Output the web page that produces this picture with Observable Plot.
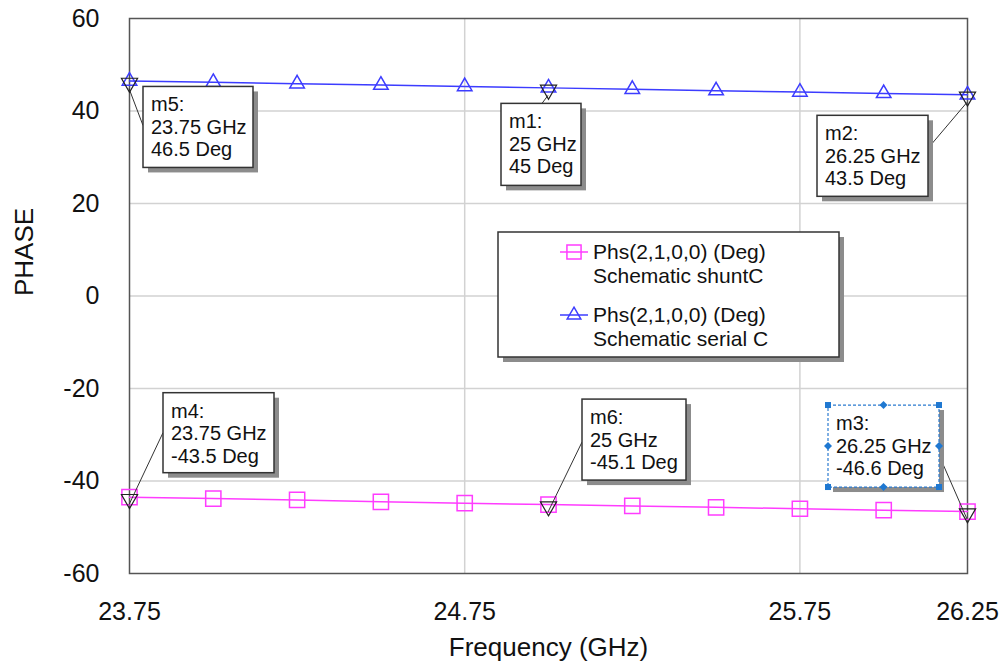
<!DOCTYPE html>
<html><head><meta charset="utf-8">
<script src="https://cdn.jsdelivr.net/npm/d3@7"></script>
<script src="https://cdn.jsdelivr.net/npm/@observablehq/plot@0.6"></script>
<style>
html,body{margin:0;padding:0;background:#fff;}
#chart svg{display:block;}
</style></head><body><div id="chart"></div>
<script>
// ---- data ----
const freqs = [23.75, 24, 24.25, 24.5, 24.75, 25, 25.25, 25.5, 25.75, 26, 26.25];
const phaseSerialC = [46.5, 46.2, 45.9, 45.6, 45.3, 45.0, 44.7, 44.4, 44.1, 43.8, 43.5];
const phaseShuntC = [-43.5, -43.8, -44.1, -44.5, -44.8, -45.1, -45.4, -45.7, -46.0, -46.3, -46.6];
const seriesNames = ["Schematic shuntC", "Schematic serial C"];
const traceLabel = "Phs(2,1,0,0) (Deg)";
const xTicks = [23.75, 24.75, 25.75, 26.25];
const yTicks = [-60, -40, -20, 0, 20, 40, 60];
const xLabel = "Frequency (GHz)";
const yLabel = "PHASE";
const markerNames = ["m5", "m1", "m2", "m4", "m6", "m3"];
const markerFreqs = [23.75, 25, 26.25, 23.75, 25, 26.25];
const markerPhases = [46.5, 45, 43.5, -43.5, -45.1, -46.6];

// ---- styles / layout ----
const FONT = "'Liberation Sans', Arial, sans-serif";
const colShunt = "#ff3cff", colSerial = "#3c3cff";
const boxLayout = {
  m5: {dx: 14, dy: 6, w: 110, h: 81, edge: "left", at: 39},
  m1: {dx: -47, dy: 16, w: 80, h: 82, edge: "top", at: 41},
  m2: {dx: -150, dy: 21, w: 111, h: 81, edge: "right", at: 33},
  m4: {dx: 34, dy: -104, w: 111, h: 80, edge: "left", at: 40},
  m6: {dx: 34, dy: -105, w: 104, h: 81, edge: "left", at: 43},
  m3: {dx: -139, dy: -106, w: 111, h: 82, edge: "right", at: 50, selected: true}
};

const rowsShunt = freqs.map((f, i) => ({f, p: phaseShuntC[i]}));
const rowsSerial = freqs.map((f, i) => ({f, p: phaseSerialC[i]}));
const markers = markerNames.map((n, i) => ({name: n, f: markerFreqs[i], p: markerPhases[i]}));

const triangleDown = {
  draw(ctx, size) {
    const s = Math.sqrt(size * 4 / Math.sqrt(3));
    const h = s * Math.sqrt(3) / 2;
    ctx.moveTo(-s / 2, -h / 3);
    ctx.lineTo(s / 2, -h / 3);
    ctx.lineTo(0, 2 * h / 3);
    ctx.closePath();
  }
};

function annotations(index, scales) {
  const g = d3.create("svg:g").attr("font-family", FONT).attr("font-size", 20).attr("fill", "#111").attr("text-anchor", "start");
  markers.forEach(m => {
    const L = boxLayout[m.name];
    const px = scales.x(m.f), py = scales.y(m.p);
    const bx = px + L.dx, by = py + L.dy;
    let lx, ly;
    if (L.edge === "left") { lx = bx; ly = by + L.at; }
    else if (L.edge === "right") { lx = bx + L.w; ly = by + L.at; }
    else { lx = bx + L.at; ly = by; }
    g.append("line").attr("x1", px).attr("y1", py + 8).attr("x2", lx).attr("y2", ly)
      .attr("stroke", "#333").attr("stroke-width", 1);
    g.append("rect").attr("x", bx + 5).attr("y", by + 5).attr("width", L.w).attr("height", L.h).attr("fill", "#8c8c8c");
    g.append("rect").attr("x", bx).attr("y", by).attr("width", L.w).attr("height", L.h)
      .attr("fill", "#fff").attr("stroke", L.selected ? "#2b7bd0" : "#333")
      .attr("stroke-width", L.selected ? 1.2 : 1.5)
      .attr("stroke-dasharray", L.selected ? "3,2" : null);
    const lines = [m.name + ":", m.f + " GHz", m.p + " Deg"];
    lines.forEach((t, k) => {
      g.append("text").attr("x", bx + 8).attr("y", by + 25 + k * 22.5).attr("text-anchor", "start").attr("stroke", "none").text(t);
    });
    if (L.selected) {
      const hc = "#1f78d1";
      [[0,0],[1,0],[0,1],[1,1]].forEach(([a,b]) => {
        g.append("rect").attr("x", bx + a * L.w - 3).attr("y", by + b * L.h - 3).attr("width", 6).attr("height", 6).attr("fill", hc);
      });
      [[0.5,0],[0.5,1],[0,0.5],[1,0.5]].forEach(([a,b]) => {
        const cx = bx + a * L.w, cy = by + b * L.h;
        g.append("path").attr("d", `M${cx},${cy-4}L${cx+4},${cy}L${cx},${cy+4}L${cx-4},${cy}Z`).attr("fill", hc);
      });
    }
  });
  return g.node();
}

function legend(index, scales, values, dims) {
  const g = d3.create("svg:g").attr("font-family", FONT).attr("font-size", 21).attr("fill", "#111").attr("text-anchor", "start");
  const x0 = 498, y0 = 232, w = 341, h = 125;
  g.append("rect").attr("x", x0 + 5).attr("y", y0 + 5).attr("width", w).attr("height", h).attr("fill", "#8c8c8c");
  g.append("rect").attr("x", x0).attr("y", y0).attr("width", w).attr("height", h).attr("fill", "#fff").attr("stroke", "#333").attr("stroke-width", 1.5);
  const items = [
    {name: seriesNames[0], color: colShunt, sym: d3.symbolSquare, size: 200, ly: 252, t1: 259, t2: 283},
    {name: seriesNames[1], color: colSerial, sym: d3.symbolTriangle, size: 80, ly: 315, t1: 322, t2: 346}
  ];
  items.forEach(it => {
    g.append("line").attr("x1", 560).attr("x2", 588).attr("y1", it.ly).attr("y2", it.ly).attr("stroke", it.color).attr("stroke-width", 1.5);
    g.append("path").attr("d", d3.symbol(it.sym, it.size)()).attr("transform", `translate(574,${it.ly})`)
      .attr("fill", "none").attr("stroke", it.color).attr("stroke-width", 1.5);
    g.append("text").attr("x", 593).attr("y", it.t1).attr("text-anchor", "start").text(traceLabel);
    g.append("text").attr("x", 593).attr("y", it.t2).attr("text-anchor", "start").text(it.name);
  });
  return g.node();
}

const chart = Plot.plot({
  width: 1006,
  height: 664,
  marginLeft: 129,
  marginRight: 39,
  marginTop: 18,
  marginBottom: 91,
  style: {fontFamily: FONT, fontSize: "25px", color: "#111", background: "#fff"},
  x: {domain: [23.75, 26.25]},
  y: {domain: [-60, 60]},
  marks: [
    Plot.gridY(yTicks.filter(v => v > -60 && v < 60), {stroke: "#d2d2d2", strokeOpacity: 1, strokeWidth: 1.5}),
    Plot.gridX(xTicks.filter(v => v > 23.75 && v < 26.25), {stroke: "#d2d2d2", strokeOpacity: 1, strokeWidth: 1.5}),
    Plot.frame({stroke: "#555", strokeWidth: 1.5}),
    Plot.axisY(yTicks, {tickSize: 0, tickPadding: 30, fontSize: 25, label: null, tickFormat: d => String(d)}),
    Plot.axisX(xTicks, {tickSize: 0, tickPadding: 29, fontSize: 25, label: null, tickFormat: d => d.toFixed(2)}),
    Plot.text([xLabel], {frameAnchor: "bottom", dy: 82, lineAnchor: "bottom", fontSize: 26}),
    Plot.text([yLabel], {frameAnchor: "left", rotate: -90, dx: -97, lineAnchor: "bottom", fontSize: 26}),
    Plot.line(rowsShunt, {x: "f", y: "p", stroke: colShunt, strokeWidth: 1.5}),
    Plot.line(rowsSerial, {x: "f", y: "p", stroke: colSerial, strokeWidth: 1.5}),
    Plot.dot(rowsShunt, {x: "f", y: "p", symbol: "square", r: 8.6, stroke: colShunt, strokeWidth: 1.5, fill: "none"}),
    Plot.dot(rowsSerial, {x: "f", y: "p", symbol: "triangle", r: 5.4, stroke: colSerial, strokeWidth: 1.5, fill: "none"}),
    legend,
    annotations,
    Plot.dot(markers, {x: "f", y: "p", symbol: triangleDown, r: 6, dy: 2, stroke: "#222", strokeWidth: 1.2, fill: "none"})
  ]
});
document.getElementById("chart").appendChild(chart);
</script>
</body></html>
